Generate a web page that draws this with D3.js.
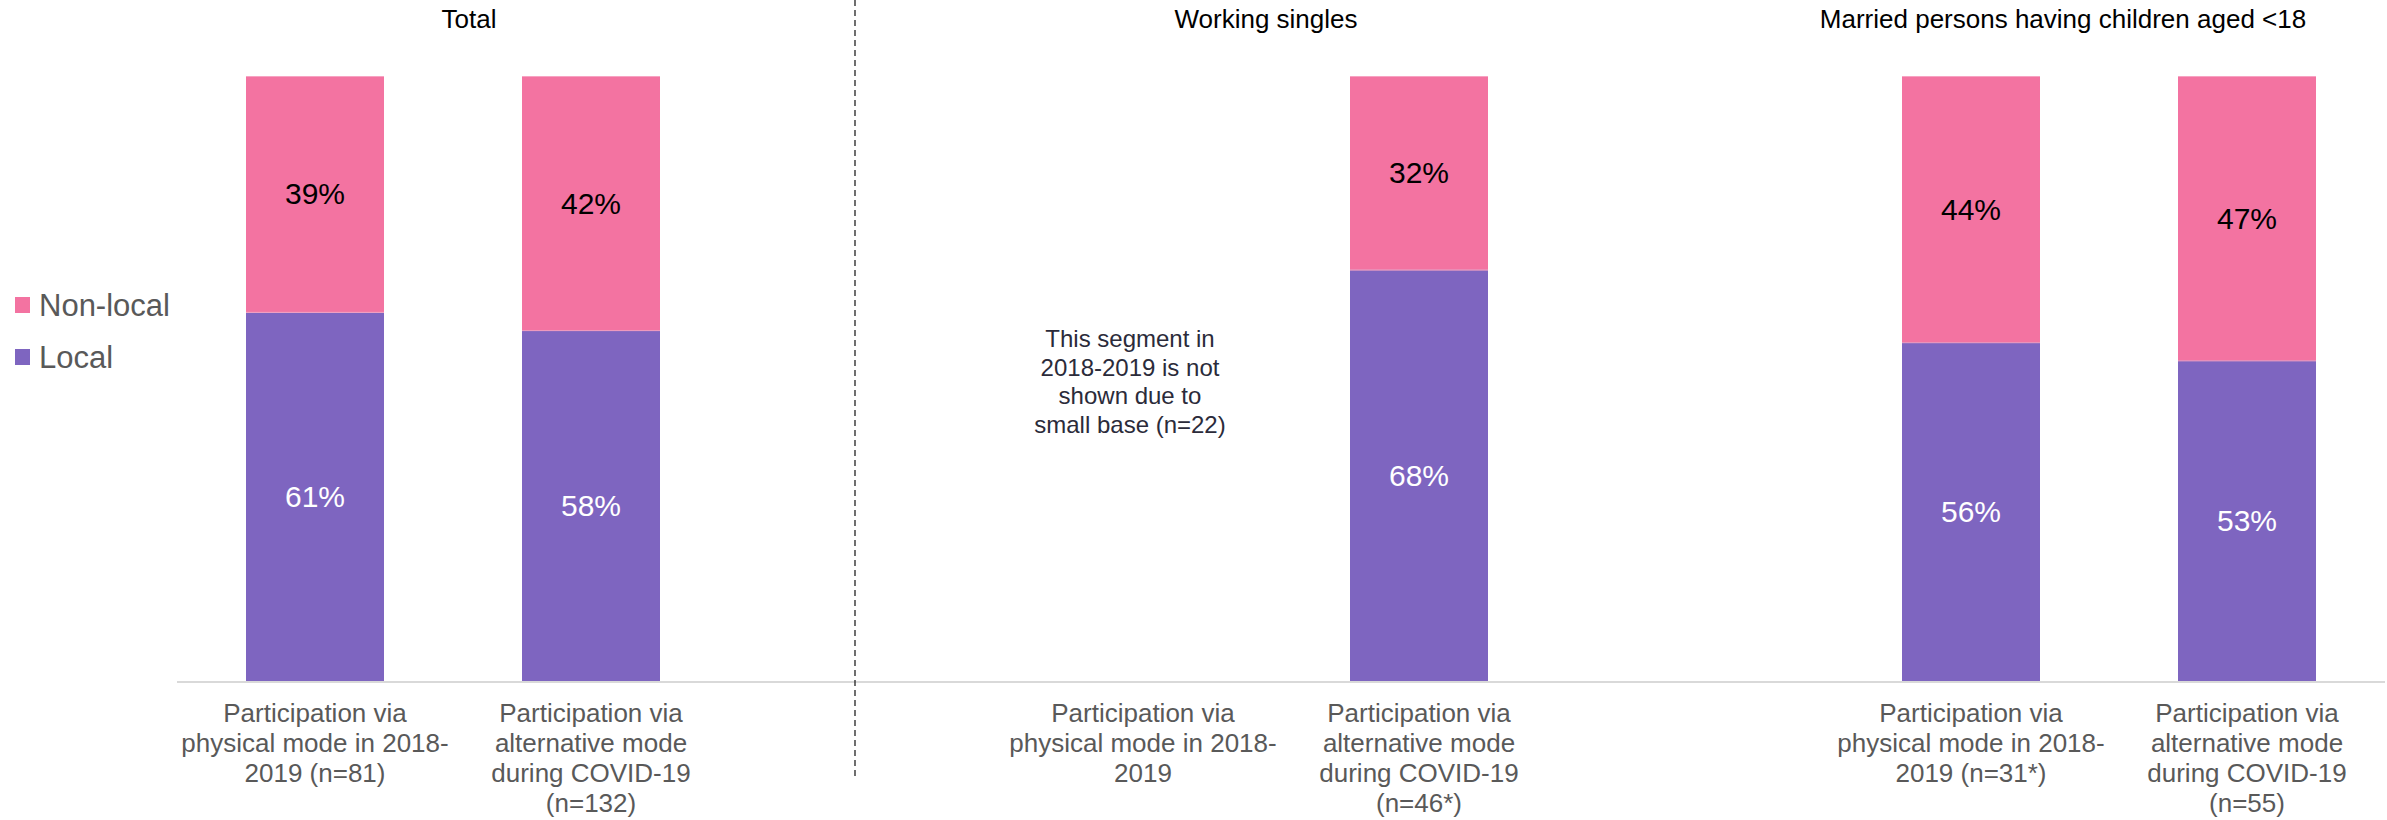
<!DOCTYPE html>
<html>
<head>
<meta charset="utf-8">
<script src="https://cdn.jsdelivr.net/npm/d3@7"></script>
<style>
  body { margin: 0; background: #fff; }
  svg text { font-family: "Liberation Sans", Arial, sans-serif; }
</style>
</head>
<body>
<div id="chart"></div>
<script>
// --------------------------------------
//  Data
// --------------------------------------

const groups = ["Total", "Working singles", "Married persons having children aged <18"];

// one slot per bar position, empty slots separate the groups
const slots = ["t1", "t2", "gap1", "w1", "w2", "gap2", "m1", "m2"];
const barSlots = ["t1", "t2", "w1", "w2", "m1", "m2"];

const localValues    = [0.61, 0.58, null, 0.68, 0.56, 0.53];
const nonLocalValues = [0.39, 0.42, null, 0.32, 0.44, 0.47];

const axisLabels = [
  ["Participation via", "physical mode in 2018-", "2019 (n=81)"],
  ["Participation via", "alternative mode", "during COVID-19", "(n=132)"],
  ["Participation via", "physical mode in 2018-", "2019"],
  ["Participation via", "alternative mode", "during COVID-19", "(n=46*)"],
  ["Participation via", "physical mode in 2018-", "2019 (n=31*)"],
  ["Participation via", "alternative mode", "during COVID-19", "(n=55)"]
];

const noteLines = ["This segment in", "2018-2019 is not", "shown due to", "small base (n=22)"];

const seriesNames = ["Non-local", "Local"];
const colors = { "Local": "#7E65C0", "Non-local": "#F373A1" };

// --------------------------------------
//  Canvas
// --------------------------------------

const width = 2387, height = 820;

const svg = d3.select("#chart")
  .append("svg")
    .attr("width", width)
    .attr("height", height)
    .attr("viewBox", [0, 0, width, height]);

// --------------------------------------
//  Scales
// --------------------------------------

const x = d3.scaleBand()
    .domain(slots)
    .range([177, 2385])
    .paddingInner(0.5)
    .paddingOuter(0.25);

const y = d3.scaleLinear()
    .domain([0, 1])
    .range([681, 76]);

const rows = barSlots.map((s, i) => ({
  slot: s,
  Local: localValues[i],
  "Non-local": nonLocalValues[i]
}));

const stacked = d3.stack().keys(["Local", "Non-local"])(rows.filter(d => d.Local != null));

// --------------------------------------
//  Bars
// --------------------------------------

const layer = svg.append("g")
  .selectAll("g")
  .data(stacked)
  .join("g")
    .attr("fill", d => colors[d.key]);

layer.selectAll("rect")
  .data(d => d)
  .join("rect")
    .attr("x", d => x(d.data.slot))
    .attr("width", x.bandwidth())
    .attr("y", d => y(d[1]))
    .attr("height", d => y(d[0]) - y(d[1]));

// thin light edge at the top of each segment
layer.selectAll("line")
  .data(d => d)
  .join("line")
    .attr("x1", d => x(d.data.slot))
    .attr("x2", d => x(d.data.slot) + x.bandwidth())
    .attr("y1", d => y(d[1]) + 0.5)
    .attr("y2", d => y(d[1]) + 0.5)
    .attr("stroke", "#F7A3C2")
    .attr("stroke-width", 1);

// value labels
svg.append("g")
  .selectAll("g")
  .data(stacked)
  .join("g")
    .attr("fill", d => d.key === "Local" ? "#ffffff" : "#000000")
  .selectAll("text")
  .data(d => d)
  .join("text")
    .attr("x", d => x(d.data.slot) + x.bandwidth() / 2)
    .attr("y", d => (y(d[0]) + y(d[1])) / 2)
    .attr("text-anchor", "middle")
    .attr("dominant-baseline", "central")
    .attr("font-size", 30)
    .text(d => Math.round((d[1] - d[0]) * 100) + "%");

// --------------------------------------
//  Axis
// --------------------------------------

svg.append("line")
    .attr("x1", x.range()[0])
    .attr("x2", x.range()[1])
    .attr("y1", y(0) + 1)
    .attr("y2", y(0) + 1)
    .attr("stroke", "#D9D9D9")
    .attr("stroke-width", 2);

const labelG = svg.append("g")
  .selectAll("text")
  .data(barSlots)
  .join("text")
    .attr("x", d => x(d) + x.bandwidth() / 2)
    .attr("y", 722)
    .attr("text-anchor", "middle")
    .attr("font-size", 26)
    .attr("fill", "#595959");

labelG.selectAll("tspan")
  .data((d, i) => axisLabels[i])
  .join("tspan")
    .attr("x", function() { return d3.select(this.parentNode).attr("x"); })
    .attr("dy", (d, i) => i === 0 ? 0 : 30)
    .text(d => d);

// --------------------------------------
//  Group titles and separator
// --------------------------------------

const titleX = [469, 1266, 2063];

svg.append("g")
  .selectAll("text")
  .data(groups)
  .join("text")
    .attr("x", (d, i) => titleX[i])
    .attr("y", 28)
    .attr("text-anchor", "middle")
    .attr("font-size", 26)
    .attr("fill", "#000")
    .text(d => d);

const sepX = x("gap1") + x.bandwidth() / 2 - 12;

svg.append("line")
    .attr("x1", sepX)
    .attr("x2", sepX)
    .attr("y1", 0)
    .attr("y2", 778)
    .attr("stroke", "#222")
    .attr("stroke-width", 1.3)
    .attr("stroke-dasharray", "6,4");

// note for the missing bar
svg.append("text")
    .attr("x", x("w1") + x.bandwidth() / 2 - 13)
    .attr("y", 347)
    .attr("text-anchor", "middle")
    .attr("font-size", 24)
    .attr("fill", "#2B2B3A")
  .selectAll("tspan")
  .data(noteLines)
  .join("tspan")
    .attr("x", x("w1") + x.bandwidth() / 2 - 13)
    .attr("dy", (d, i) => i === 0 ? 0 : 28.5)
    .text(d => d);

// --------------------------------------
//  Legend
// --------------------------------------

const legend = svg.append("g")
  .selectAll("g")
  .data(seriesNames)
  .join("g")
    .attr("transform", (d, i) => `translate(15, ${297 + i * 52})`);

legend.append("rect")
    .attr("width", 15)
    .attr("height", 16)
    .attr("fill", d => colors[d]);

legend.append("text")
    .attr("x", 24)
    .attr("y", 8)
    .attr("dominant-baseline", "central")
    .attr("font-size", 31)
    .attr("fill", "#595959")
    .text(d => d);
</script>
</body>
</html>
